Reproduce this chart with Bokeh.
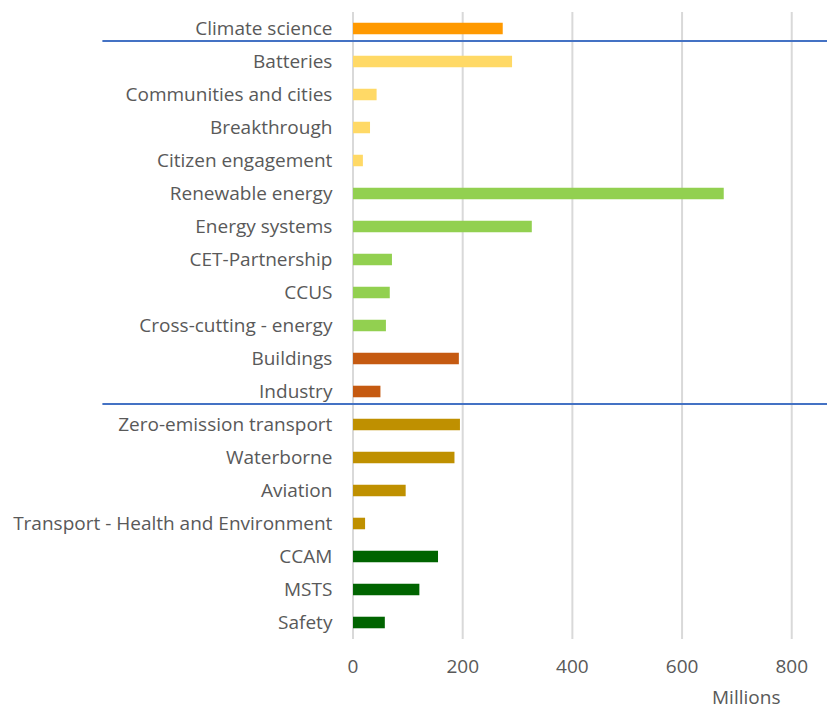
from bokeh.plotting import figure
from bokeh.models import Range1d, ColumnDataSource
from bokeh.embed import file_html
from bokeh.resources import INLINE
from bokeh.core.properties import value

categories = [
    "Climate science", "Batteries", "Communities and cities", "Breakthrough",
    "Citizen engagement", "Renewable energy", "Energy systems", "CET-Partnership",
    "CCUS", "Cross-cutting - energy", "Buildings", "Industry",
    "Zero-emission transport", "Waterborne", "Aviation",
    "Transport - Health and Environment", "CCAM", "MSTS", "Safety",
]
values = [273, 290, 43, 31, 18, 676, 326, 71, 67, 60, 193, 50,
          195, 185, 96, 22, 155, 121, 58]
groups = ["climate", "yellow", "yellow", "yellow", "yellow", "green", "green",
          "green", "green", "green", "orange", "orange", "gold", "gold", "gold",
          "gold", "dkgreen", "dkgreen", "dkgreen"]
group_colors = {"climate": "#FF9900", "yellow": "#FFD966", "green": "#92D050",
                "orange": "#C55A11", "gold": "#BF9000", "dkgreen": "#006400"}
x_ticks = [0, 200, 400, 600, 800]
x_tick_labels = ["0", "200", "400", "600", "800"]
separators_after = [0, 11]  # separator line below these category indices
unit_label = "Millions"

n = len(categories)
ypos = list(range(n))
colors = [group_colors[g] for g in groups]
src = ColumnDataSource(dict(y=ypos, v=values, c=colors, name=categories,
                            lx=[-37.6] * n))

FONT = "Open Sans"
TXT = "#595959"
FS = "19px"

# scales: 0.5484 px per unit horizontally, 33 px per category vertically
X0, X1 = -642.8, 865.2
Y_BOTTOM, Y_TOP = 20.697, -0.848
p = figure(width=827, height=711, output_backend="svg", toolbar_location=None,
           x_range=Range1d(X0, X1), y_range=Range1d(Y_BOTTOM, Y_TOP),
           min_border=0)
p.outline_line_color = None
p.background_fill_color = "white"
p.border_fill_color = "white"
p.xaxis.visible = False
p.yaxis.visible = False
p.grid.visible = False

# vertical gridlines spanning the category band
gsrc = ColumnDataSource(dict(x=x_ticks, lab=x_tick_labels,
                             y0=[-0.5] * len(x_ticks), y1=[n - 0.5] * len(x_ticks),
                             ly=[n + 0.33] * len(x_ticks)))
p.segment(x0="x", x1="x", y0="y0", y1="y1", source=gsrc,
          line_color="#D9D9D9", line_width=2)

# bars
p.hbar(y="y", right="v", height=0.35, left=0, fill_color="c", line_color=None,
       source=src)

# category labels
p.text(x="lx", y="y", text="name", source=src, text_align="right",
       text_baseline="middle", text_font=value(FONT), text_font_size=FS,
       text_color=TXT)

# tick labels
p.text(x="x", y="ly", text="lab", source=gsrc, text_align="center",
       text_baseline="middle", text_font=value(FONT), text_font_size=FS,
       text_color=TXT)

# separator lines
sep_y = [i + 0.38 for i in separators_after]
p.segment(x0=[-457] * len(sep_y), x1=[X1] * len(sep_y), y0=sep_y, y1=sep_y,
          line_color="#4472C4", line_width=2)

# unit label
p.text(x=[717], y=[n + 1.25], text=[unit_label], text_align="center",
       text_baseline="middle", text_font=value(FONT), text_font_size=FS,
       text_color=TXT)

open("out.html", "w").write(file_html(p, INLINE))
